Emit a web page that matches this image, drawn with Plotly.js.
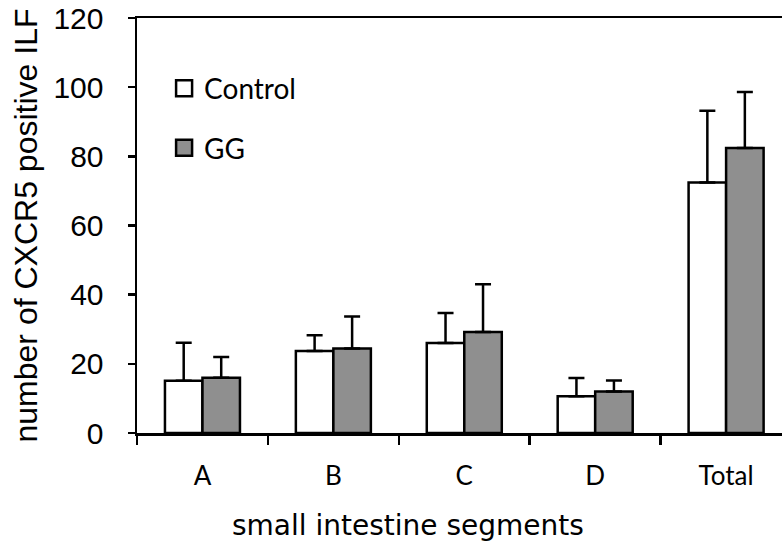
<!DOCTYPE html>
<html>
<head>
<meta charset="utf-8">
<script src="https://cdn.plot.ly/plotly-3.0.1.min.js"></script>
<style>
  html, body { margin: 0; padding: 0; background: #ffffff; }
  #chart { width: 782px; height: 550px; }
</style>
</head>
<body>
<div id="chart"></div>
<script>
// Data
var categories = ['A', 'B', 'C', 'D', 'Total'];
var controlValues = [15.1, 23.7, 26.0, 10.6, 72.4];
var controlErrors = [11.0, 4.6, 8.7, 5.3, 20.8];
var ggValues = [16.0, 24.4, 29.2, 12.0, 82.4];
var ggErrors = [6.0, 9.3, 13.8, 3.2, 16.2];
var seriesNames = ['Control', 'GG'];
var yTicks = [0, 20, 40, 60, 80, 100, 120];
var xTitle = 'small intestine segments';
var yTitle = 'number of CXCR5 positive ILF';

var zeros = function (arr) { return arr.map(function () { return 0; }); };

var barLine = { color: '#000000', width: 2.5 };
var errStyle = function (errs) {
  return {
    type: 'data', symmetric: false, array: errs, arrayminus: zeros(errs),
    color: '#000000', thickness: 2.5, width: 8, visible: true
  };
};

var traces = [
  {
    type: 'bar', name: seriesNames[0], x: categories, y: controlValues,
    marker: { color: '#ffffff', line: barLine },
    error_y: errStyle(controlErrors), showlegend: false, hoverinfo: 'x+y'
  },
  {
    type: 'bar', name: seriesNames[1], x: categories, y: ggValues,
    marker: { color: '#8f8f8f', line: barLine },
    error_y: errStyle(ggErrors), showlegend: false, hoverinfo: 'x+y'
  },
  // legend entries (square swatches like the reference)
  {
    type: 'scatter', mode: 'markers', name: seriesNames[0], x: [null], y: [null],
    legendgroup: 'g1',
    marker: { symbol: 'square', size: 16, color: '#ffffff', line: { color: '#000000', width: 2.5 } },
    hoverinfo: 'skip'
  },
  {
    type: 'scatter', mode: 'markers', name: seriesNames[1], x: [null], y: [null],
    legendgroup: 'g2',
    marker: { symbol: 'square', size: 16, color: '#8f8f8f', line: { color: '#000000', width: 2.5 } },
    hoverinfo: 'skip'
  }
];

var layout = {
  width: 782, height: 550,
  margin: { l: 137, r: 0, t: 18, b: 117, pad: 0 },
  paper_bgcolor: '#ffffff', plot_bgcolor: '#ffffff',
  barmode: 'group', bargap: 0.427, bargroupgap: 0,
  showlegend: true,
  legend: {
    x: 0.042, y: 0.89, xanchor: 'left', yanchor: 'top',
    bgcolor: 'rgba(0,0,0,0)', borderwidth: 0,
    traceorder: 'grouped', tracegroupgap: 20,
    font: { family: 'Lato, "Open Sans", sans-serif', size: 28, color: '#000000' }
  },
  xaxis: {
    type: 'category', range: [-0.5, 4.427],
    showline: true, linecolor: '#000000', linewidth: 2.5, mirror: true,
    ticks: 'outside', tickson: 'boundaries', ticklen: 9, tickwidth: 2.5, tickcolor: '#000000',
    ticklabelstandoff: 18,
    showgrid: false, zeroline: false,
    tickfont: { family: 'Lato, "Open Sans", sans-serif', size: 26, color: '#000000' },
    automargin: false, fixedrange: true
  },
  yaxis: {
    range: [0, 120], tickvals: yTicks, ticktext: yTicks.map(String),
    showline: true, linecolor: '#000000', linewidth: 2.5, mirror: false,
    ticks: 'outside', ticklen: 7, tickwidth: 2.5, tickcolor: '#000000',
    ticklabelstandoff: 18,
    showgrid: false, zeroline: false,
    tickfont: { family: '"Liberation Sans", Arial, sans-serif', size: 30, color: '#000000' },
    title: {
      text: yTitle, standoff: 6,
      font: { family: '"Liberation Sans", Arial, sans-serif', size: 32, color: '#000000' }
    },
    automargin: false, fixedrange: true
  },
  annotations: [
    {
      text: xTitle, xref: 'paper', yref: 'paper', x: 0.42, y: -0.222,
      xanchor: 'center', yanchor: 'middle', showarrow: false,
      font: { family: '"DejaVu Sans", sans-serif', size: 28, color: '#000000' }
    }
  ]
};

Plotly.newPlot('chart', traces, layout, { displayModeBar: false, staticPlot: true });
</script>
</body>
</html>
